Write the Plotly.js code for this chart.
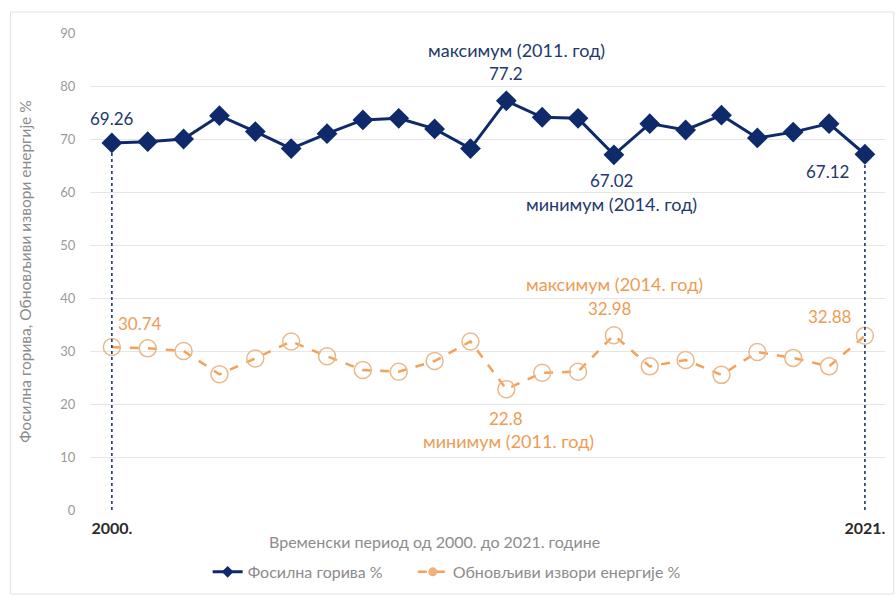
<!DOCTYPE html>
<html>
<head>
<meta charset="utf-8">
<script src="https://cdn.plot.ly/plotly-3.0.1.min.js"></script>
<style>html,body{margin:0;padding:0;background:#fff;}#chart{width:895px;height:595px;}</style>
</head>
<body>
<div id="chart"></div>
<script>
// ---- data ----
const years = [2000,2001,2002,2003,2004,2005,2006,2007,2008,2009,2010,2011,2012,2013,2014,2015,2016,2017,2018,2019,2020,2021];
const fossil = [69.26,69.5,70.0,74.4,71.4,68.2,71.0,73.6,73.9,71.9,68.2,77.2,74.1,73.9,67.02,72.9,71.7,74.5,70.2,71.3,72.9,67.12];
const renewable = [30.74,30.5,30.0,25.6,28.6,31.8,29.0,26.4,26.1,28.1,31.8,22.8,25.9,26.1,32.98,27.1,28.3,25.5,29.8,28.7,27.1,32.88];
const seriesNames = ["Фосилна горива %", "Обновљиви извори енергије %"];
const xTickVals = [2000, 2021];
const xTickText = ["2000.", "2021."];
const xTitle = "Временски период од 2000. до 2021. године";
const yTitle = "Фосилна горива, Обновљиви извори енергије %";
const fossilMaxLabel = "максимум (2011. год)";
const fossilMinLabel = "минимум (2014. год)";
const renewMaxLabel = "максимум (2014. год)";
const renewMinLabel = "минимум (2011. год)";

const NAVY = "#0e2a6b";
const NAVY_TXT = "#23396b";
const ORANGE = "#f2a25a";
const ORANGE_TXT = "#ee9c55";
const FONT = "Lato, 'Open Sans', sans-serif";

const iFMax = fossil.indexOf(Math.max(...fossil));
const iFMin = fossil.indexOf(Math.min(...fossil));
const iRMax = renewable.indexOf(Math.max(...renewable));
const iRMin = renewable.indexOf(Math.min(...renewable));
const last = years.length - 1;

const traces = [
  {
    x: years, y: fossil, name: seriesNames[0], type: "scatter", mode: "lines+markers",
    line: {color: NAVY, width: 3},
    marker: {symbol: "diamond", size: 16, color: NAVY},
    showlegend: false, hoverinfo: "x+y"
  },
  {
    x: years, y: renewable, name: seriesNames[1], type: "scatter", mode: "lines+markers",
    line: {color: ORANGE, width: 2.5, dash: "dash"},
    marker: {symbol: "circle", size: 17, color: "rgba(255,255,255,0)", line: {color: "#e9b98c", width: 1.5}},
    showlegend: false, hoverinfo: "x+y"
  },
  // legend entries (same series, small legend symbols)
  {
    x: [null], y: [null], name: seriesNames[0], type: "scatter", mode: "lines+markers", legend: "legend",
    line: {color: NAVY, width: 3}, marker: {symbol: "diamond", size: 9, color: NAVY}, showlegend: true
  },
  {
    x: [null], y: [null], name: seriesNames[1], type: "scatter", mode: "lines+markers", legend: "legend2",
    line: {color: ORANGE, width: 2.5, dash: "dash"}, marker: {symbol: "circle", size: 9, color: "#f0b27a"}, showlegend: true
  }
];

function ann(x, y, text, color, xs, ys, size) {
  return {x: x, y: y, xref: "x", yref: "y", text: text, showarrow: false,
          xshift: xs, yshift: ys, font: {family: FONT, size: size, color: color}};
}

const VS = 17, LS = 18;
const annotations = [
  ann(years[0], fossil[0], String(fossil[0]), NAVY_TXT, 0, 24, VS),
  ann(years[iFMax], fossil[iFMax], String(fossil[iFMax]), NAVY_TXT, 0, 27, VS),
  ann(years[iFMax], fossil[iFMax], fossilMaxLabel, NAVY_TXT, 10, 51, LS),
  ann(years[iFMin], fossil[iFMin], String(fossil[iFMin]), NAVY_TXT, -2, -26, VS),
  ann(years[iFMin], fossil[iFMin], fossilMinLabel, NAVY_TXT, -2, -49, LS),
  ann(years[last], fossil[last], String(fossil[last]), NAVY_TXT, -37, -17, VS),
  ann(years[0], renewable[0], String(renewable[0]), ORANGE_TXT, 28, 24, VS),
  ann(years[iRMax], renewable[iRMax], String(renewable[iRMax]), ORANGE_TXT, -4, 27, VS),
  ann(years[iRMax], renewable[iRMax], renewMaxLabel, ORANGE_TXT, 1, 51, LS),
  ann(years[iRMin], renewable[iRMin], String(renewable[iRMin]), ORANGE_TXT, 0, -29, VS),
  ann(years[iRMin], renewable[iRMin], renewMinLabel, ORANGE_TXT, 2, -52, LS),
  ann(years[last], renewable[last], String(renewable[last]), ORANGE_TXT, -35, 19, VS),
  {x: 0.433, y: -0.065, xref: "paper", yref: "paper", xanchor: "center", yanchor: "middle",
   text: xTitle, showarrow: false, font: {family: FONT, size: 16, color: "#8c8c8c"}}
];

const shapes = [
  {type: "line", xref: "x", yref: "y", x0: years[0], x1: years[0], y0: 0, y1: fossil[0],
   line: {color: NAVY, width: 1.5, dash: "dot"}, layer: "above"},
  {type: "line", xref: "x", yref: "y", x0: years[last], x1: years[last], y0: 0, y1: fossil[last],
   line: {color: NAVY, width: 1.5, dash: "dot"}, layer: "above"},
  {type: "rect", xref: "paper", yref: "paper", x0: -0.1, x1: 1.011, y0: -0.176, y1: 1.044,
   line: {color: "#e2e2e2", width: 1}, layer: "below"}
];

const legendFont = {family: FONT, size: 16, color: "#8c8c8c"};
const layout = {
  width: 895, height: 595,
  margin: {l: 90, r: 10, t: 33, b: 85, autoexpand: false},
  paper_bgcolor: "#fff", plot_bgcolor: "#fff",
  font: {family: FONT, color: "#8c8c8c"},
  showlegend: true,
  legend: {orientation: "h", x: 0.148, xanchor: "left", yref: "container", y: 0.0387, yanchor: "middle",
           bgcolor: "rgba(0,0,0,0)", font: legendFont},
  legend2: {orientation: "h", x: 0.406, xanchor: "left", yref: "container", y: 0.0387, yanchor: "middle",
           bgcolor: "rgba(0,0,0,0)", font: legendFont},
  xaxis: {
    range: [1999.39, 2021.56], tickmode: "array", tickvals: xTickVals, ticktext: xTickText, automargin: false,
    tickfont: {family: FONT, size: 16, color: "#2a2a2a", weight: "bold"}, showgrid: false, zeroline: false,
    showline: false, ticks: "outside", ticklen: 4, tickcolor: "rgba(0,0,0,0)"
  },
  yaxis: {
    range: [0, 90], dtick: 10, tick0: 0, showgrid: true, gridcolor: "#e6e6e6", gridwidth: 1, automargin: false,
    zeroline: false, showline: false, ticks: "outside", ticklen: 11, tickcolor: "rgba(0,0,0,0)",
    tickfont: {family: FONT, size: 13, color: "#9a9a9a"},
    title: {text: yTitle, font: {family: FONT, size: 15.5, color: "#8c8c8c"}, standoff: 24}
  },
  annotations: annotations,
  shapes: shapes
};

Plotly.newPlot("chart", traces, layout, {displayModeBar: false, staticPlot: true});
</script>
</body>
</html>
